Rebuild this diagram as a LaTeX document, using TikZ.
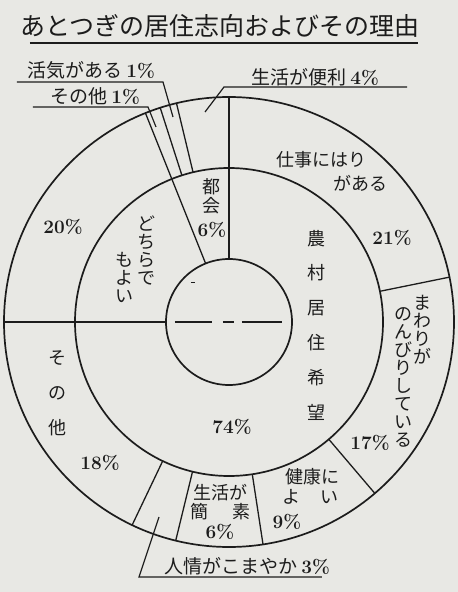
\documentclass[tikz,border=0pt]{standalone}
\usepackage{fontspec}
\newfontfamily\jp{Noto Sans CJK JP}
\usetikzlibrary{positioning}
\definecolor{ink}{RGB}{28,28,28}
\definecolor{paper}{RGB}{232,232,228}

\begin{document}
\begin{tikzpicture}[x=1pt, y=1pt,
  ring/.style={line width=1.7pt, draw=ink},
  divider/.style={line width=1.3pt, draw=ink},
  leader/.style={line width=1.2pt, draw=ink},
  seg/.style={font=\jp\fontsize{18}{18}\selectfont, text=ink, inner sep=0pt, align=center},
  pct/.style={font=\bfseries\fontsize{19}{19}\selectfont, text=ink, inner sep=0pt},
  tag/.style={font=\jp\fontsize{19}{19}\selectfont, text=ink, inner sep=0pt}]

\fill[paper] (-229,-270) rectangle (229,322);
\useasboundingbox (-229,-270) rectangle (229,322);

% rings and sector borders
\foreach \r in {63,154,225}
  \draw[ring] (0,0) circle (\r);

\foreach \a in {90,111.8,180}
  \draw[divider] (\a:63) -- (\a:225);

\foreach \a in {103.5,107.8,11.5,-49.6,-81.3,-103.7,-115.5}
  \draw[divider] (\a:154) -- (\a:225);

\foreach \a/\b in {-54/-17,-6/5,13/53}
  \draw[divider] (\a,0) -- (\b,0);
\draw[divider, line width=1pt] (-38,40) -- (-34,40);

% title
\node[font=\jp\fontsize{25}{25}\selectfont, text=ink, inner sep=0pt] (title) at (-9,296)
  {あとつぎの居住志向およびその理由};
\draw[line width=1.4pt, ink] (-199,279) -- (189,279);

% inner ring
\node[seg, font=\jp\fontsize{18}{19}\selectfont] (tokai) at (-17,126) {都\\会};
\node[seg] (dochira-a) at (-82,72) {ど\\ち\\ら\\で};
\node[seg] (dochira-b) at (-104,45) {も\\よ\\い};
\node[seg, font=\jp\fontsize{18}{34.8}\selectfont] (noson) at (88,-3) {農\\村\\居\\住\\希\\望};

% outer ring
\node[seg] (shigoto-a) at (93,162) {仕事にはり};
\node[seg] (shigoto-b) at (132,139) {がある};
\node[seg] (nonbiri-a) at (193,-8) {ま\\わ\\り\\が};
\node[seg] (nonbiri-b) at (174,-55) {の\\ん\\び\\り\\し\\て\\い\\る};
\node[seg] (kenko-a) at (84,-155) {健康に};
\node[seg] (kenko-b) at (82,-175) {よ\hspace{20pt}い};
\node[seg] (kanso-a) at (-8,-171) {生活が};
\node[seg] (kanso-b) at (-8,-190) {簡\hspace{24pt}素};
\node[seg, font=\jp\fontsize{18}{35}\selectfont] (sonota) at (-171,-71) {そ\\の\\他};

\foreach \n/\p/\t in {tokai/{-17,92}/6, dochira/{-166,95}/20, noson/{3,-105}/74,
    shigoto/{163,84}/21, nonbiri/{141,-121}/17, kenko/{58,-200}/9,
    kanso/{-9,-210}/6, sonota/{-129,-141}/18}
  \node[pct] (pct-\n) at (\p) {\t\%};

% small sectors with leaders
\node[tag] (kakki) at (-138,252) {活気がある {\rmfamily\bfseries 1\%}};
\coordinate (kakki-l) at (-212,240);
\coordinate (kakki-r) at (-66,240);
\coordinate (kakki-p) at (-56,205);
\draw[leader] (kakki-l) -- (kakki-r) -- (kakki-p);

\node[tag] (hoka) at (-134,226) {その他 {\rmfamily\bfseries 1\%}};
\coordinate (hoka-l) at (-196,215);
\coordinate (hoka-r) at (-81,215);
\coordinate (hoka-p) at (-73,195);
\draw[leader] (hoka-l) -- (hoka-r) -- (hoka-p);

\node[tag] (benri) at (86,245) {生活が便利 {\rmfamily\bfseries 4\%}};
\coordinate (benri-r) at (178,235);
\coordinate (benri-l) at (-5,235);
\coordinate (benri-p) at (-24,210);
\draw[leader] (benri-r) -- (benri-l) -- (benri-p);

\node[tag] (ninjo) at (18,-244) {人情がこまやか {\rmfamily\bfseries 3\%}};
\coordinate (ninjo-p) at (-70,-195);
\coordinate (ninjo-l) at (-90,-255);
\coordinate (ninjo-r) at (93,-255);
\draw[leader] (ninjo-p) -- (ninjo-l) -- (ninjo-r);

\end{tikzpicture}
\end{document}
